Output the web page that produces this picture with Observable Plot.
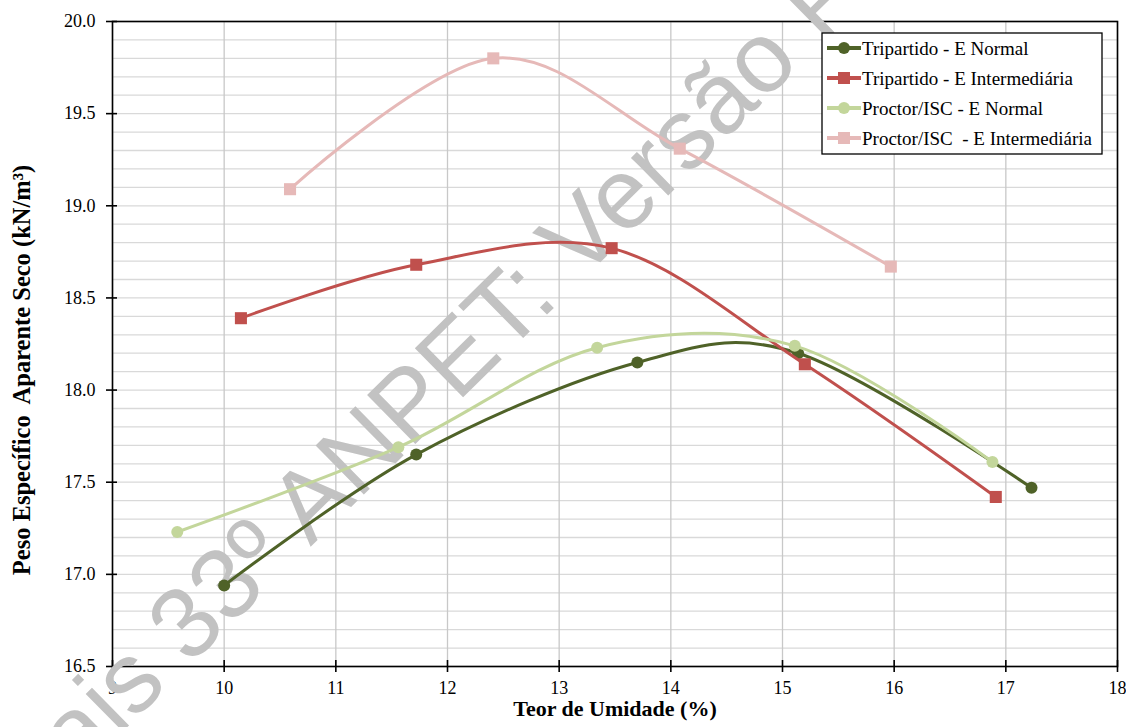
<!DOCTYPE html>
<html>
<head>
<meta charset="utf-8">
<script src="https://cdn.jsdelivr.net/npm/d3@7"></script>
<script src="https://cdn.jsdelivr.net/npm/@observablehq/plot@0.6"></script>
<style>
  html, body { margin: 0; padding: 0; background: white; }
  #chart svg { display: block; }
</style>
</head>
<body>
<div id="chart"></div>
<script>
// ---- data ----
const seriesNames = [
  "Tripartido - E Normal",
  "Tripartido - E Intermediária",
  "Proctor/ISC - E Normal",
  "Proctor/ISC  - E Intermediária"
];
const seriesColors = ["#4F6228", "#C0504D", "#C3D69B", "#E6B9B8"];
const seriesSymbols = ["circle", "square", "circle", "square"];

const triNormalX = [10.0, 11.72, 13.70, 15.14, 17.23];
const triNormalY = [16.94, 17.65, 18.15, 18.20, 17.47];

const triInterX = [10.15, 11.72, 13.47, 15.20, 16.91];
const triInterY = [18.39, 18.68, 18.77, 18.14, 17.42];

const procNormalX = [9.58, 11.56, 13.34, 15.11, 16.88];
const procNormalY = [17.23, 17.69, 18.23, 18.24, 17.61];

const procInterX = [10.59, 12.41, 14.08, 15.97];
const procInterY = [19.09, 19.80, 19.31, 18.67];

const xTicks = [9, 10, 11, 12, 13, 14, 15, 16, 17, 18];
const yTicks = [16.5, 17.0, 17.5, 18.0, 18.5, 19.0, 19.5, 20.0];

const xTitle = "Teor de Umidade (%)";
const yTitle = "Peso Específico  Aparente Seco (kN/m³)";
const watermark = "Anais 33º ANPET: Versão Preliminar";

const serif = "'Liberation Serif', 'Times New Roman', serif";

// ---- build table ----
const allX = [triNormalX, triInterX, procNormalX, procInterX];
const allY = [triNormalY, triInterY, procNormalY, procInterY];
const rows = [];
seriesNames.forEach((name, i) => {
  allX[i].forEach((x, j) => rows.push({series: name, x, y: allY[i][j], symbol: seriesSymbols[i]}));
});
const yGrid = d3.ticks(16.5, 20, 35);

const marks = [
  Plot.gridY(yGrid, {stroke: "#d9d9d9", strokeOpacity: 1, strokeWidth: 1.3}),
  Plot.gridX(xTicks, {stroke: "#c8c8c8", strokeOpacity: 1, strokeWidth: 1.3}),
  Plot.frame({stroke: "black", strokeWidth: 1.6}),
  Plot.axisY(yTicks, {tickSize: 11, dx: 5, tickFormat: () => "", strokeWidth: 1.6, label: null}),
  Plot.axisY(yTicks, {tickSize: 0, tickPadding: 17, tickFormat: d3.format(".1f"), label: null, fontSize: 18, fill: "black"}),
  Plot.axisX(xTicks, {tickSize: 12, dy: -6, tickFormat: () => "", strokeWidth: 1.6, label: null}),
  Plot.axisX(xTicks, {tickSize: 0, tickPadding: 15, tickFormat: d3.format("d"), label: null, fontSize: 18, fill: "black"})
];
seriesNames.forEach((name, i) => {
  const d = rows.filter(r => r.series === name);
  marks.push(Plot.line(d, {x: "x", y: "y", stroke: seriesColors[i], strokeWidth: 3, curve: "cardinal"}));
  marks.push(Plot.dot(d, {x: "x", y: "y", fill: seriesColors[i], symbol: seriesSymbols[i],
    r: seriesSymbols[i] === "square" ? 6.8 : 6}));
});

const svg = Plot.plot({
  width: 1126,
  height: 727,
  marginLeft: 112,
  marginRight: 9,
  marginTop: 21,
  marginBottom: 61,
  x: {domain: [9, 18], label: null},
  y: {domain: [16.5, 20], label: null},
  style: {fontFamily: serif, fontSize: "18px", color: "black", background: "white"},
  marks
});

const s = d3.select(svg);

// serif tick labels
s.selectAll("g[aria-label$='tick label']").style("font-family", serif).attr("font-family", serif);
s.selectAll("g[aria-label$='tick label'] text").style("font-family", serif);

// watermark (above grid, below the series lines)
const firstLine = svg.querySelector("g[aria-label='line']");
const wm = document.createElementNS("http://www.w3.org/2000/svg", "text");
svg.insertBefore(wm, firstLine);
d3.select(wm)
  .attr("transform", "translate(-9,861) rotate(-44.5)")
  .attr("text-anchor", "start")
  .style("font-family", "'Liberation Sans', Arial, sans-serif")
  .attr("font-size", 100)
  .attr("fill", "#c2c2c2")
  .text(watermark);

// axis titles
s.append("text")
  .attr("x", 615).attr("y", 716)
  .attr("text-anchor", "middle")
  .attr("font-family", serif)
  .attr("font-weight", "bold").attr("font-size", 22)
  .attr("fill", "black")
  .text(xTitle);

s.append("text")
  .attr("transform", "translate(30,370) rotate(-90)")
  .attr("text-anchor", "middle")
  .attr("font-family", serif)
  .attr("font-weight", "bold").attr("font-size", 24.5)
  .attr("fill", "black")
  .style("white-space", "pre")
  .text(yTitle);

// legend
const lg = s.append("g").attr("transform", "translate(822,33)");
lg.append("rect").attr("width", 280).attr("height", 121)
  .attr("fill", "white").attr("stroke", "black").attr("stroke-width", 1.3);
seriesNames.forEach((name, i) => {
  const cy = 15 + i * 30;
  lg.append("line").attr("x1", 5).attr("x2", 39).attr("y1", cy).attr("y2", cy)
    .attr("stroke", seriesColors[i]).attr("stroke-width", 4);
  if (seriesSymbols[i] === "circle") {
    lg.append("circle").attr("cx", 22).attr("cy", cy).attr("r", 6).attr("fill", seriesColors[i]);
  } else {
    lg.append("rect").attr("x", 16).attr("y", cy - 6).attr("width", 12).attr("height", 12).attr("fill", seriesColors[i]);
  }
  lg.append("text").attr("x", 40).attr("y", cy).attr("dy", "0.35em")
    .attr("text-anchor", "start")
    .attr("font-family", serif)
    .attr("font-size", 19).attr("fill", "black")
    .style("white-space", "pre")
    .text(name);
});

document.getElementById("chart").appendChild(svg);
</script>
</body>
</html>
